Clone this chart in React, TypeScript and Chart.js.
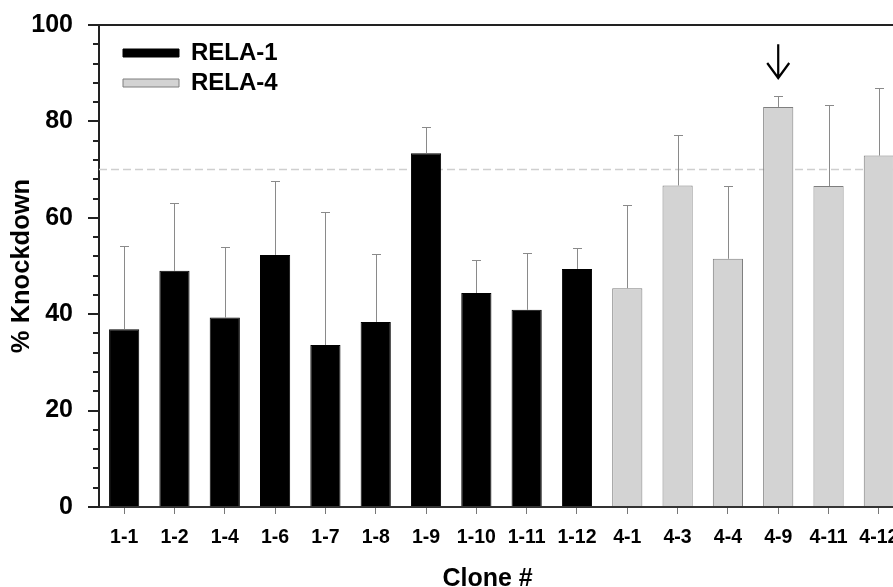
import React, { useEffect, useRef } from 'react';
import { Chart, registerables } from 'chart.js';

Chart.register(...registerables);

// ---- Data ----
const CATEGORIES = ['1-1', '1-2', '1-4', '1-6', '1-7', '1-8', '1-9', '1-10', '1-11', '1-12', '4-1', '4-3', '4-4', '4-9', '4-11', '4-12'];
const RELA1_LABEL = 'RELA-1';
const RELA4_LABEL = 'RELA-4';
const RELA1_MEANS = [36.9, 49.0, 39.3, 52.3, 33.6, 38.4, 73.4, 44.4, 40.9, 49.4];
const RELA1_ERRORS = [17.2, 14.0, 14.7, 15.3, 27.5, 14.1, 5.4, 6.8, 11.8, 4.3];
const RELA4_MEANS = [45.4, 66.7, 51.5, 83.0, 66.6, 72.9];
const RELA4_ERRORS = [17.3, 10.5, 15.0, 2.3, 16.7, 14.0];
const Y_TICKS = [0, 20, 40, 60, 80, 100];
const Y_MINOR_PER_MAJOR = 5;
const THRESHOLD = 70;
const ARROW_CATEGORY = '4-9';
const ARROW_FROM = 96;
const ARROW_TO = 89;
const X_TITLE = 'Clone #    ';
const Y_TITLE = '% Knockdown';

const FONT = '"Liberation Sans", Arial, Helvetica, sans-serif';

const overlayPlugin = {
  id: 'overlay',
  afterLayout(chart: any) {
    const lg = chart.legend;
    const ca = chart.chartArea;
    if (lg) {
      lg.left = ca.left + 18;
      lg.top = ca.top + 10;
      lg.right = lg.left + lg.width;
      lg.bottom = lg.top + lg.height;
    }
  },
  beforeDatasetsDraw(chart: any) {
    const { ctx, chartArea: ca, scales } = chart;
    const py = scales.y.getPixelForValue(THRESHOLD);
    ctx.save();
    ctx.strokeStyle = '#cfcfcf';
    ctx.lineWidth = 1.5;
    ctx.setLineDash([8, 4]);
    ctx.beginPath();
    ctx.moveTo(ca.left, py);
    ctx.lineTo(ca.right, py);
    ctx.stroke();
    ctx.restore();
  },
  afterDatasetsDraw(chart: any) {
    const { ctx, chartArea: ca, scales } = chart;
    const y = scales.y;
    const x = scales.x;
    // error bars (upper only)
    ctx.save();
    ctx.strokeStyle = '#8a8a8a';
    ctx.lineWidth = 1;
    chart.data.datasets.forEach((ds: any, di: number) => {
      const meta = chart.getDatasetMeta(di);
      meta.data.forEach((bar: any, i: number) => {
        const v = ds.data[i];
        if (v == null) return;
        const e = ds.errors[i];
        const px = Math.round(bar.x) + 0.5;
        const yBar = y.getPixelForValue(v);
        const yTop = Math.round(y.getPixelForValue(v + e)) + 0.5;
        ctx.beginPath();
        ctx.moveTo(px, yBar);
        ctx.lineTo(px, yTop);
        ctx.moveTo(px - 4.5, yTop);
        ctx.lineTo(px + 4.5, yTop);
        ctx.stroke();
      });
    });
    ctx.restore();

    // top frame line
    ctx.save();
    ctx.strokeStyle = '#222';
    ctx.lineWidth = 2;
    ctx.beginPath();
    ctx.moveTo(ca.left, ca.top);
    ctx.lineTo(ca.right + 2, ca.top);
    ctx.stroke();
    // minor y ticks
    for (let k = 0; k < Y_TICKS.length - 1; k++) {
      const a = Y_TICKS[k];
      const b = Y_TICKS[k + 1];
      for (let m = 1; m < Y_MINOR_PER_MAJOR; m++) {
        const v = a + ((b - a) * m) / Y_MINOR_PER_MAJOR;
        const py = Math.round(y.getPixelForValue(v));
        ctx.beginPath();
        ctx.moveTo(ca.left - 6, py);
        ctx.lineTo(ca.left, py);
        ctx.stroke();
      }
    }
    ctx.restore();

    // arrow marking the selected clone
    const ax = x.getPixelForValue(CATEGORIES.indexOf(ARROW_CATEGORY));
    const y1 = y.getPixelForValue(ARROW_FROM);
    const y2 = y.getPixelForValue(ARROW_TO);
    ctx.save();
    ctx.strokeStyle = '#000';
    ctx.lineWidth = 2.2;
    ctx.beginPath();
    ctx.moveTo(ax, y1);
    ctx.lineTo(ax, y2);
    ctx.moveTo(ax - 11, y2 - 15);
    ctx.lineTo(ax, y2);
    ctx.lineTo(ax + 11, y2 - 15);
    ctx.stroke();
    ctx.restore();
  },
};

export default function App() {
  const ref = useRef<HTMLCanvasElement | null>(null);

  useEffect(() => {
    if (!ref.current) return;
    const nulls = (n: number) => Array.from({ length: n }, () => null);
    const data1 = [...RELA1_MEANS, ...nulls(RELA4_MEANS.length)];
    const err1 = [...RELA1_ERRORS, ...nulls(RELA4_MEANS.length)];
    const data2 = [...nulls(RELA1_MEANS.length), ...RELA4_MEANS];
    const err2 = [...nulls(RELA1_MEANS.length), ...RELA4_ERRORS];

    const chart = new Chart(ref.current, {
      type: 'bar',
      data: {
        labels: CATEGORIES,
        datasets: [
          {
            label: RELA1_LABEL,
            data: data1,
            errors: err1,
            backgroundColor: '#000000',
            borderColor: '#000000',
            borderWidth: 1,
            grouped: false,
            barPercentage: 0.6,
            categoryPercentage: 1,
          } as any,
          {
            label: RELA4_LABEL,
            data: data2,
            errors: err2,
            backgroundColor: '#d3d3d3',
            borderColor: '#7f7f7f',
            borderWidth: 1,
            grouped: false,
            barPercentage: 0.6,
            categoryPercentage: 1,
          } as any,
        ],
      },
      options: {
        responsive: false,
        animation: false,
        devicePixelRatio: 1,
        layout: { padding: { left: 0, right: 1, top: 25, bottom: 0 } },
        plugins: {
          legend: {
            position: 'chartArea',
            align: 'start',
            labels: {
              boxWidth: 56,
              boxHeight: 8,
              padding: 6,
              color: '#000',
              font: { family: FONT, size: 24, weight: 'bold' },
            },
          },
          tooltip: { enabled: false },
        },
        scales: {
          x: {
            type: 'category',
            offset: true,
            grid: {
              display: true,
              drawOnChartArea: false,
              drawTicks: true,
              tickLength: 7,
              color: '#777',
              lineWidth: 1,
              offset: false,
            },
            border: { display: true, color: '#333', width: 2 },
            ticks: {
              color: '#000',
              font: { family: FONT, size: 19.5, weight: 'bold' },
              padding: 12,
              maxRotation: 0,
              autoSkip: false,
            },
            title: {
              display: true,
              text: X_TITLE,
              color: '#000',
              font: { family: FONT, size: 25, weight: 'bold', lineHeight: 1 },
              padding: { top: 0, bottom: -5 },
            },
            afterFit: (s: any) => {
              s.height = 80;
              s.paddingLeft = 0;
              s.paddingRight = 0;
            },
          },
          y: {
            min: 0,
            max: 100,
            afterBuildTicks: (s: any) => {
              s.ticks = Y_TICKS.map((v) => ({ value: v }));
            },
            grid: {
              display: true,
              drawOnChartArea: false,
              drawTicks: true,
              tickLength: 11,
              color: '#222',
              lineWidth: 2,
            },
            border: { display: true, color: '#222', width: 2 },
            ticks: {
              color: '#000',
              font: { family: FONT, size: 25, weight: 'bold' },
              padding: 15,
            },
            title: {
              display: true,
              text: Y_TITLE,
              color: '#000',
              font: { family: FONT, size: 25.5, weight: 'bold', lineHeight: 1 },
              padding: { top: 9, bottom: 0 },
            },
            afterFit: (s: any) => {
              s.width = 99;
              s.paddingTop = 0;
              s.paddingBottom = 0;
            },
          },
        },
      } as any,
      plugins: [overlayPlugin],
    });

    return () => {
      chart.destroy();
    };
  }, []);

  return (
    <div
      style={{
        position: 'fixed',
        left: 0,
        top: 0,
        width: 893,
        height: 587,
        overflow: 'hidden',
        background: '#fff',
      }}
    >
      <canvas ref={ref} width={905} height={587} style={{ display: 'block', width: 905, height: 587 }} />
    </div>
  );
}
